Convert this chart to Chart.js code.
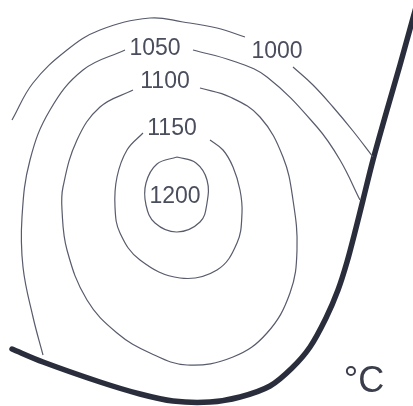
<!DOCTYPE html>
<html>
<head>
<meta charset="utf-8">
<script src="https://cdn.jsdelivr.net/npm/chart.js@4"></script>
<style>
  html, body { margin: 0; padding: 0; background: #fff; }
  #wrap { width: 413px; height: 406px; position: relative; }
</style>
</head>
<body>
<div id="wrap"><canvas id="chart"></canvas></div>
<script>
// isotherm levels (°C)
const levels = [1000, 1050, 1100, 1150, 1200];

// contour traces (x, y in picture units, y down)
const c1000a = [[12,120],[33,83],[67,50],[100,30],[150,18],[183,22],[217,28],[245,37]];
const c1000b = [[293,67],[313,85],[333,107],[353,131],[373,157]];
const c1050a = [[43,355],[33,317],[23,267],[22,217],[30,160],[50,110],[83,70],[125,50]];
const c1050b = [[193,50],[233,61],[267,77],[317,127],[340,160],[360,200]];
const c1100a = [[133,90],[100,107],[77,140],[63,187],[62,210],[67,250],[87,300],[117,333],[150,353],[187,365],[233,357],[267,333],[290,293],[297,250],[293,200],[283,157],[260,117],[230,97],[200,88]];
const c1150a = [[143,133],[127,150],[117,177],[115,207],[120,233],[140,260],[180,278],[217,270],[237,243],[242,213],[240,190],[233,167],[223,150],[210,140]];
const c1200a = [[177,157],[196,163],[207,180],[207,203],[200,222],[177,232],[155,223],[146,205],[146,183],[157,164],[177,157]];

// tool edge
const edge = [[12,349],[43,362],[100,382],[140,394],[173,401],[210,402],[240,397],[270,386],[292,368],[310,347],[326,318],[338,290],[347,262],[356,228],[363,200],[373,160],[387,110],[400,65],[418,0]];

// label anchors
const labelPos = [[277,52],[155,49],[165,82],[172,129],[175,197]];
const unitText = '°C';

const pts = a => a.map(p => ({x: p[0], y: p[1]}));
const thin = (d, t) => ({
  data: pts(d), showLine: true, borderColor: '#575b6b', borderWidth: 1.2,
  pointRadius: 0, tension: t === undefined ? 0.4 : t, fill: false
});

const datasets = [
  thin(c1000a), thin(c1000b), thin(c1050a), thin(c1050b),
  thin(c1100a), thin(c1150a), thin(c1200a),
  { data: pts(edge), showLine: true, borderColor: '#2a2d3b', borderWidth: 5.5,
    borderCapStyle: 'round', borderJoinStyle: 'round', pointRadius: 0, tension: 0.3, fill: false }
];

const labelPlugin = {
  id: 'isoLabels',
  afterDatasetsDraw(chart) {
    const {ctx, scales: {x, y}} = chart;
    ctx.save();
    ctx.fillStyle = '#4a4e5c';
    ctx.textAlign = 'center';
    ctx.textBaseline = 'middle';
    ctx.font = '23px "Liberation Sans", Arial, sans-serif';
    levels.forEach((lv, i) => {
      ctx.fillText(String(lv), x.getPixelForValue(labelPos[i][0]), y.getPixelForValue(labelPos[i][1]));
    });
    ctx.font = '36px "Liberation Sans", Arial, sans-serif';
    ctx.fillStyle = '#3a3d4a';
    ctx.fillText(unitText, x.getPixelForValue(364), y.getPixelForValue(382));
    ctx.restore();
  }
};

new Chart(document.getElementById('chart'), {
  type: 'scatter',
  data: { datasets },
  options: {
    responsive: true,
    maintainAspectRatio: false,
    animation: false,
    layout: { padding: 0 },
    plugins: { legend: { display: false }, tooltip: { enabled: false } },
    scales: {
      x: { type: 'linear', min: 0, max: 413, display: false },
      y: { type: 'linear', min: 0, max: 406, reverse: true, display: false }
    }
  },
  plugins: [labelPlugin]
});
</script>
</body>
</html>
